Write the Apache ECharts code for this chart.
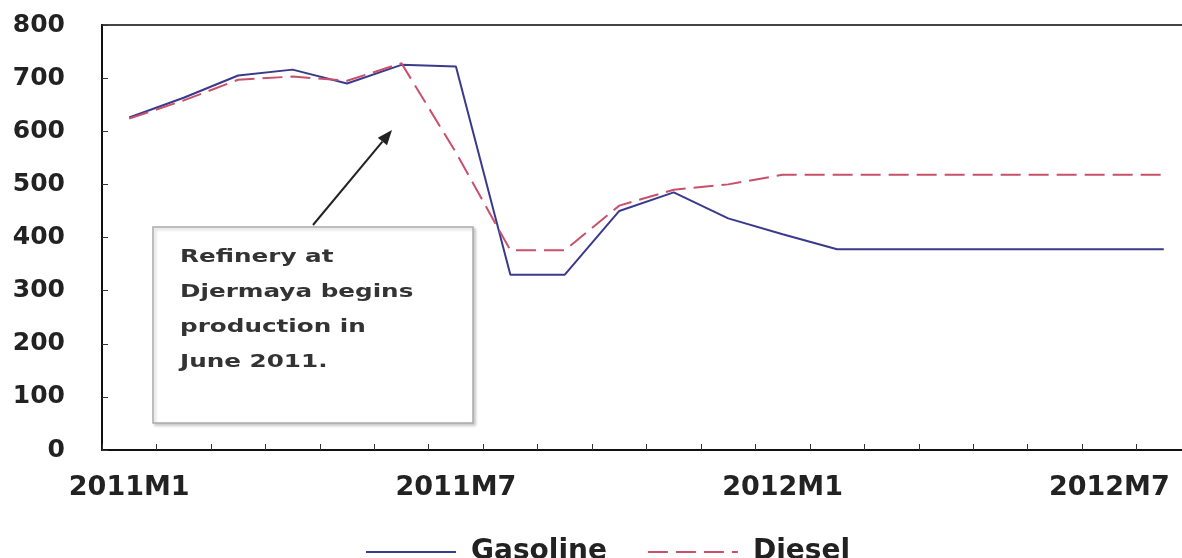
<!DOCTYPE html>
<html>
<head>
<meta charset="utf-8">
<script src="https://cdn.jsdelivr.net/npm/echarts@6/dist/echarts.min.js"></script>
<style>
  html, body { margin: 0; padding: 0; background: #fff; overflow: hidden; }
  #chart { width: 1191px; height: 558px; }
</style>
</head>
<body>
<div id="chart"></div>
<script>
const months = ['2011M1', '2011M2', '2011M3', '2011M4', '2011M5', '2011M6', '2011M7', '2011M8', '2011M9', '2011M10',
  '2011M11', '2011M12', '2012M1', '2012M2', '2012M3', '2012M4', '2012M5', '2012M6', '2012M7', '2012M8']
const gasoline = [626, 663, 705, 716, 690, 725, 722, 330, 330, 450, 485, 436, 406, 378, 378, 378, 378, 378, 378, 378]
const diesel = [624, 658, 697, 703, 695, 728, 560, 376, 376, 460, 490, 500, 518, 518, 518, 518, 518, 518, 518, 518]
const noteLines = ['Refinery at', 'Djermaya begins', 'production in', 'June 2011.']

const font = '"DejaVu Sans", "Liberation Sans", sans-serif'
const chart = echarts.init(document.getElementById('chart'))

// arrow from the note box up to the June point
const tail = [313, 225], tip = [392, 130]
const dx = tip[0] - tail[0], dy = tip[1] - tail[1]
const len = Math.sqrt(dx * dx + dy * dy)
const ux = dx / len, uy = dy / len
const bx = tip[0] - ux * 15, by = tip[1] - uy * 15
const head = [tip, [bx - uy * 6, by + ux * 6], [bx + uy * 6, by - ux * 6]]

chart.setOption({
  backgroundColor: '#fff',
  animation: false,
  grid: {
    left: 102, top: 25, right: 0, height: 425,
    show: true, borderColor: '#444', borderWidth: 2
  },
  legend: {
    top: 533,
    left: 360,
    itemWidth: 90,
    itemHeight: 14,
    itemGap: 40,
    itemStyle: { opacity: 0 },
    textStyle: {
      fontFamily: font, fontSize: 28, fontWeight: 'bold', color: '#222',
      padding: [0, 0, 0, 10]
    },
    data: ['Gasoline', 'Diesel']
  },
  xAxis: {
    type: 'category',
    data: months,
    boundaryGap: true,
    axisLine: { lineStyle: { color: '#111', width: 2 } },
    axisTick: { show: true, inside: true, length: 6, interval: 0, lineStyle: { color: '#333' } },
    axisLabel: {
      interval: 5, margin: 24, color: '#222',
      fontFamily: font, fontSize: 27, fontWeight: 'bold'
    },
    splitLine: { show: false }
  },
  yAxis: {
    type: 'value',
    min: 0, max: 800, interval: 100,
    axisLine: { show: true, lineStyle: { color: '#111', width: 2 } },
    axisTick: { show: true, inside: true, length: 6, lineStyle: { color: '#333' } },
    axisLabel: {
      margin: 37, color: '#222',
      fontFamily: font, fontSize: 25, fontWeight: 'bold'
    },
    splitLine: { show: false }
  },
  series: [
    {
      name: 'Gasoline',
      type: 'line',
      data: gasoline,
      symbol: 'none',
      lineStyle: { color: '#3a3a8c', width: 2 },
      itemStyle: { color: '#3a3a8c' }
    },
    {
      name: 'Diesel',
      type: 'line',
      data: diesel,
      symbol: 'none',
      lineStyle: { color: '#c8506a', width: 2, type: [20, 8] },
      itemStyle: { color: '#c8506a' }
    }
  ],
  graphic: [
    {
      type: 'rect',
      shape: { x: 153, y: 227, width: 320, height: 196 },
      style: {
        fill: '#fff', stroke: '#aaa', lineWidth: 1.5,
        shadowBlur: 3, shadowColor: 'rgba(0,0,0,0.2)', shadowOffsetX: 2, shadowOffsetY: 2
      },
      z: 100
    },
    {
      type: 'text',
      x: 180, y: 240,
      scaleX: 1.45,
      style: {
        text: noteLines.join('\n'),
        font: 'bold 17px ' + font,
        lineHeight: 35,
        fill: '#333'
      },
      z: 101
    },
    {
      type: 'line',
      shape: { x1: tail[0], y1: tail[1], x2: bx, y2: by },
      style: { stroke: '#222', lineWidth: 2 },
      z: 101
    },
    {
      type: 'polygon',
      shape: { points: head },
      style: { fill: '#222' },
      z: 101
    }
  ]
})
</script>
</body>
</html>
